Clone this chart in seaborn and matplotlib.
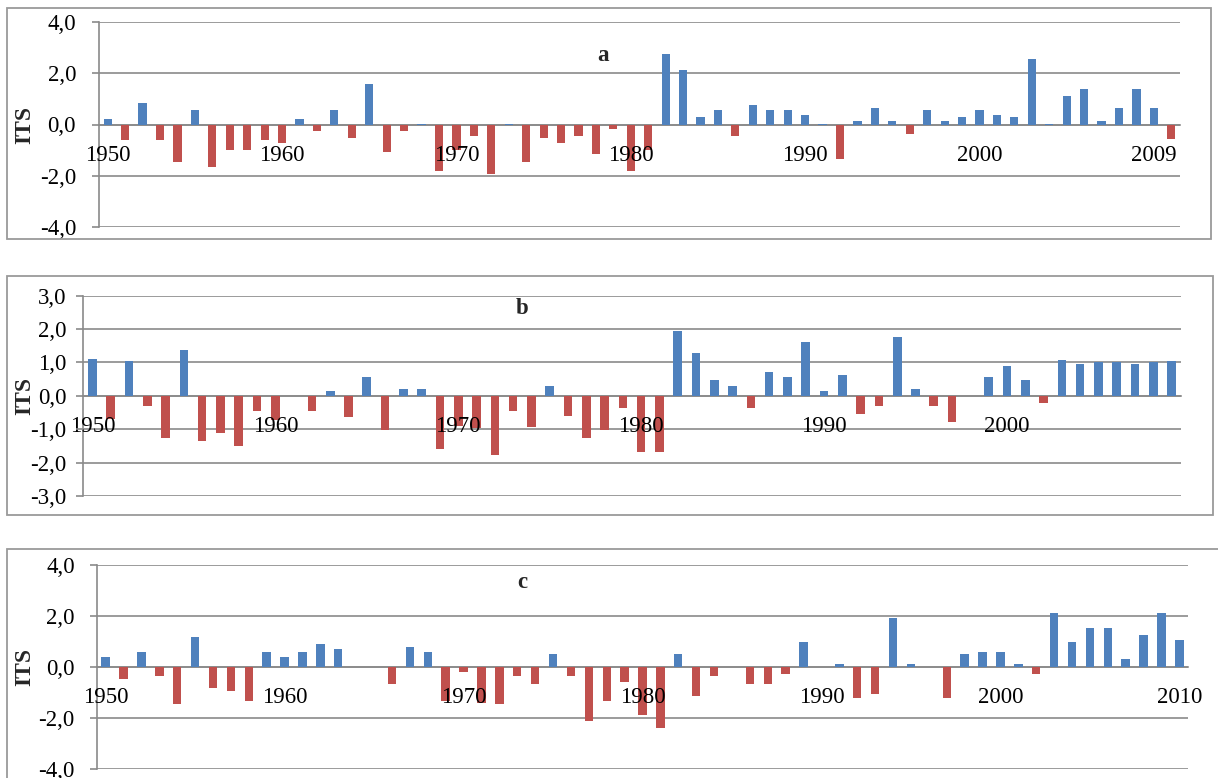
import numpy as np
import pandas as pd
import matplotlib
matplotlib.use("Agg")
import matplotlib.pyplot as plt
import seaborn as sns
from matplotlib.patches import Rectangle

# ---- data -------------------------------------------------------------
years_a = np.arange(1950, 2012)
its_a = [0.22, -0.62, 0.84, -0.62, -1.45, 0.57, -1.64, -1.00, -1.00, -0.62,
         -0.73, 0.22, -0.27, 0.57, -0.53, 1.58, -1.09, -0.27, 0.03, -1.82,
         -1.00, -0.45, -1.92, 0.03, -1.45, -0.53, -0.73, -0.45, -1.17, -0.18,
         -1.82, -1.00, 2.75, 2.12, 0.30, 0.57, -0.45, 0.75, 0.57, 0.57,
         0.39, 0.03, -1.36, 0.12, 0.66, 0.12, -0.36, 0.57, 0.12, 0.30,
         0.57, 0.39, 0.30, 2.57, 0.03, 1.12, 1.39, 0.12, 0.66, 1.39,
         0.66, -0.56]
ticks_a = ["1950", "1960", "1970", "1980", "1990", "2000", "2009"]

years_b = np.arange(1950, 2010)
its_b = [1.11, -0.68, 1.05, -0.29, -1.27, 1.37, -1.34, -1.10, -1.50, -0.45,
         -0.72, 0.00, -0.45, 0.14, -0.62, 0.56, -1.02, 0.21, 0.21, -1.60,
         -0.90, -0.95, -1.76, -0.45, -0.94, 0.30, -0.61, -1.27, -1.02, -0.36,
         -1.68, -1.68, 1.93, 1.28, 0.46, 0.30, -0.37, 0.71, 0.55, 1.61,
         0.14, 0.63, -0.53, -0.29, 1.77, 0.21, -0.29, -0.78, 0.00, 0.55,
         0.88, 0.46, -0.20, 1.08, 0.94, 1.00, 1.00, 0.96, 1.02, 1.05]
ticks_b = ["1950", "1960", "1970", "1980", "1990", "2000"]

years_c = np.arange(1950, 2011)
its_c = [0.42, -0.46, 0.61, -0.36, -1.42, 1.18, -0.83, -0.94, -1.32, 0.61,
         0.42, 0.61, 0.90, 0.72, 0.00, 0.00, -0.65, 0.79, 0.61, -1.32,
         -0.17, -1.40, -1.42, -0.36, -0.65, 0.52, -0.36, -2.09, -1.32, -0.56,
         -1.89, -2.38, 0.52, -1.13, -0.36, 0.00, -0.65, -0.65, -0.26, 0.98,
         0.00, 0.13, -1.22, -1.03, 1.95, 0.13, 0.00, -1.22, 0.52, 0.61,
         0.61, 0.13, -0.26, 2.13, 0.98, 1.56, 1.56, 0.32, 1.28, 2.13,
         1.09]
ticks_c = ["1950", "1960", "1970", "1980", "1990", "2000", "2010"]

yticks_ac = [-4, -2, 0, 2, 4]
ylabels_ac = ["-4,0", "-2,0", "0,0", "2,0", "4,0"]
yticks_b = [-3, -2, -1, 0, 1, 2, 3]
ylabels_b = ["-3,0", "-2,0", "-1,0", "0,0", "1,0", "2,0", "3,0"]

# ---- style ------------------------------------------------------------
sns.set_style("white")
plt.rcParams["font.family"] = ["Liberation Serif", "DejaVu Serif"]

BLUE = "#4F81BD"
RED = "#C0504D"
GRID = "#8A8A8A"
FS = 16.5

W, H = 1218, 778
fig = plt.figure(figsize=(W / 100, H / 100), dpi=100)


def px_axes(left, top, right, bottom):
    return fig.add_axes([left / W, 1 - bottom / H, (right - left) / W, (bottom - top) / H])


def frame(left, top, right, bottom):
    fig.patches.append(Rectangle((left / W, 1 - bottom / H), (right - left) / W,
                                 (bottom - top) / H, transform=fig.transFigure,
                                 fill=False, edgecolor="#9A9A9A", lw=1.3))


def panel(ax, years, values, yticks, ylabels, tick_labels, letter, letter_xy,
          ypad, ax_left_px, ax_width_px):
    vals = np.asarray(values)
    df = pd.DataFrame({"year": years.astype(str), "ITS": vals,
                       "sign": np.where(vals < 0, "neg", "pos")})
    sns.barplot(data=df, x="year", y="ITS", hue="sign",
                palette={"pos": BLUE, "neg": RED}, dodge=False, width=0.47,
                saturation=1, errorbar=None, legend=False, linewidth=0, ax=ax)
    n = len(years)
    ax.set_xlim(-0.5, n - 0.5)
    ax.set_ylim(yticks[0], yticks[-1])
    ax.set_yticks(yticks)
    ax.set_yticklabels(ylabels)
    ax.set_xticks(np.arange(0, 10 * len(tick_labels), 10))
    ax.set_xticklabels(tick_labels)
    ax.set_xlabel("")
    # horizontal gridlines sit behind the bars; the axis labels stay on top
    ax.grid(False)
    ax.set_axisbelow(False)
    for yv in yticks:
        ax.axhline(yv, color=GRID, lw=1.2, zorder=0.5)
    for s in ("top", "right"):
        ax.spines[s].set_visible(False)
    ax.spines["left"].set_color(GRID)
    ax.spines["left"].set_linewidth(1.2)
    ax.spines["bottom"].set_position(("data", 0))
    ax.spines["bottom"].set_color(GRID)
    ax.spines["bottom"].set_linewidth(1.2)
    ax.spines["bottom"].set_zorder(0.6)
    ax.tick_params(axis="y", length=5, width=1.2, color=GRID, pad=ypad,
                   labelsize=FS, labelcolor="black", left=True)
    ax.tick_params(axis="x", length=0, pad=14.5, labelsize=FS, labelcolor="black",
                   bottom=True)
    ax.set_ylabel("ITS", fontsize=17, fontweight="bold")
    ax.yaxis.set_label_coords((35 - ax_left_px) / ax_width_px, 0.5)
    ax.text(letter_xy[0], letter_xy[1], letter, transform=ax.transAxes,
            ha="center", va="center", fontsize=FS, fontweight="bold")


# panel a
frame(7, 8, 1211, 239)
ax_a = px_axes(99, 22, 1180, 227)
panel(ax_a, years_a, its_a, yticks_ac, ylabels_ac, ticks_a, "a", (0.466, 0.835),
      11.5, 99, 1081)

# panel b
frame(7, 276, 1213, 515)
ax_b = px_axes(83.3, 295.7, 1180.7, 496)
panel(ax_b, years_b, its_b, yticks_b, ylabels_b, ticks_b, "b", (0.40, 0.934),
      7.2, 83.3, 1097.4)

# panel c
frame(7, 549, 1240, 800)
ax_c = px_axes(96.7, 565.3, 1188.3, 769.3)
panel(ax_c, years_c, its_c, yticks_ac, ylabels_ac, ticks_c, "c", (0.39, 0.918),
      10.8, 96.7, 1091.6)

fig.savefig("out.png", dpi=100, facecolor="white")
